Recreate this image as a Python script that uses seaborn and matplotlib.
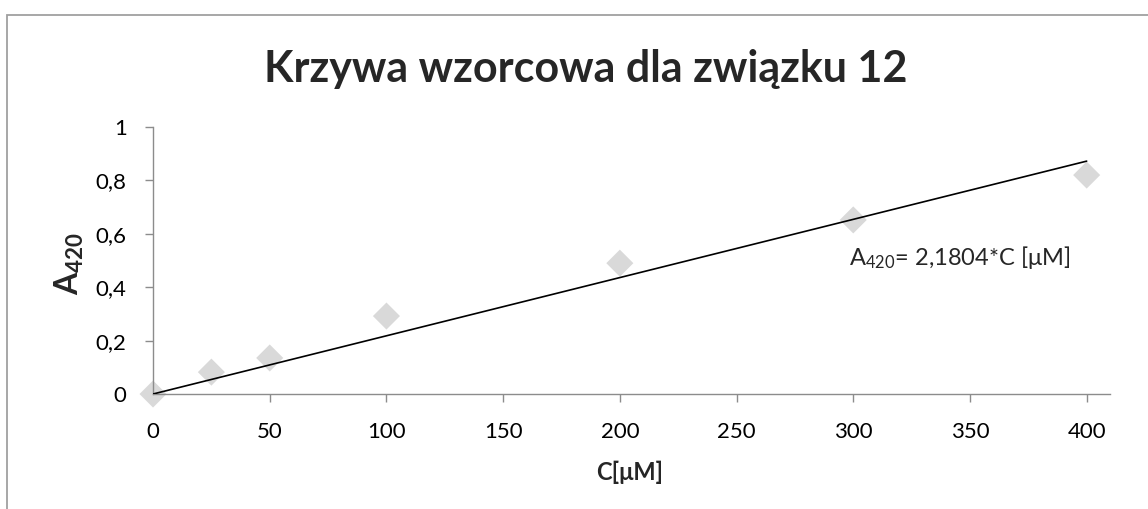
import numpy as np
import pandas as pd
import seaborn as sns
import matplotlib.pyplot as plt
from matplotlib.patches import Rectangle
from matplotlib.ticker import FuncFormatter

# calibration data
conc = [0, 25, 50, 100, 200, 300, 400]
absorb = [0, 0.082, 0.135, 0.292, 0.49, 0.652, 0.82]
slope = 0.0021804  # per uM
fit_x = [0, 400]

sns.set_theme(style="white")
plt.rcParams['font.family'] = ['Lato', 'DejaVu Sans']
plt.rcParams['mathtext.fontset'] = 'custom'
plt.rcParams['mathtext.rm'] = 'Lato'
plt.rcParams['mathtext.it'] = 'Lato:italic'
plt.rcParams['mathtext.bf'] = 'Lato:bold'

df = pd.DataFrame({'C': conc, 'A': absorb})
fit = pd.DataFrame({'C': fit_x, 'A': [slope * x for x in fit_x]})

fig = plt.figure(figsize=(11.48, 5.09), dpi=100)
ax = fig.add_axes([0.1333, 0.2259, 0.8336, 0.5246])

sns.scatterplot(data=df, x='C', y='A', marker='D', s=190, color='#d9d9d9',
                edgecolor='none', ax=ax, zorder=2, clip_on=False)
sns.lineplot(data=fit, x='C', y='A', color='black', linewidth=1.2, ax=ax, zorder=3)

ax.set_xlim(0, 410)
ax.set_ylim(0, 1)
ax.set_xticks(np.arange(0, 401, 50))
ax.set_yticks([0, 0.2, 0.4, 0.6, 0.8, 1])
ax.yaxis.set_major_formatter(FuncFormatter(lambda v, p: f"{v:g}".replace('.', ',')))

for side in ['top', 'right']:
    ax.spines[side].set_visible(False)
for side in ['left', 'bottom']:
    ax.spines[side].set_color('#8c8c8c')
    ax.spines[side].set_linewidth(1)
ax.tick_params(axis='both', which='major', direction='out', length=6, width=1,
               color='#8c8c8c', labelsize=16, labelcolor='black')
ax.tick_params(axis='x', bottom=True, pad=14)
ax.tick_params(axis='y', left=True, pad=13)

ax.set_xlabel('C[μM]', fontsize=17, fontweight='bold', va='top')
ax.xaxis.set_label_coords(0.498, -0.25)
ax.set_ylabel(r'$\mathbf{A}_{\mathbf{420}}$', fontsize=23)
ax.yaxis.set_label_coords(-0.07, 0.49)

ax.text(298, 0.513, r'A$_{420}$= 2,1804*C [μM]', fontsize=17, va='center', ha='left')

fig.text(0.51, 1 - 82 / 509, 'Krzywa wzorcowa dla związku 12', ha='center',
         va='baseline', fontsize=31, fontweight='bold')

# chart area frame
fig.patches.append(Rectangle((7 / 1148, -0.1), 1.2, 1 - 15.5 / 509 + 0.1,
                             transform=fig.transFigure, fill=False,
                             edgecolor='#a0a0a0', linewidth=1.3))

fig.savefig('out.png', dpi=100)
